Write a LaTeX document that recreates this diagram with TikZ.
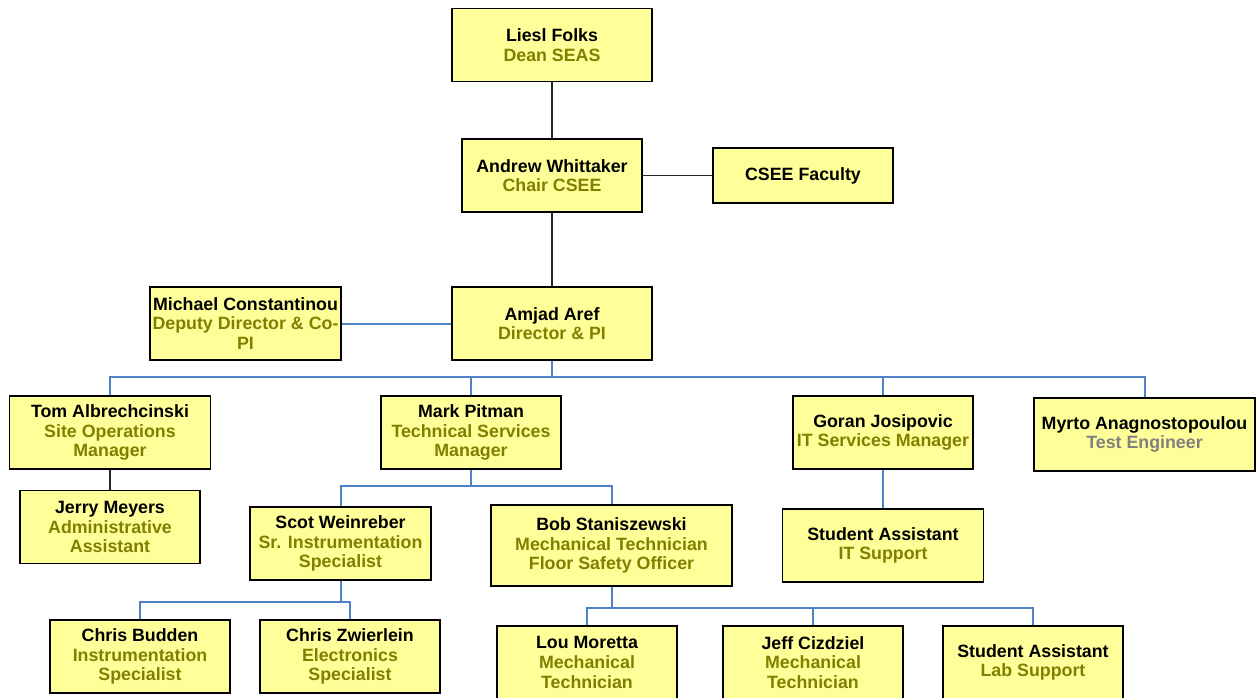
\documentclass[tikz,border=0pt]{standalone}
\usepackage{fontspec}
\setmainfont{Liberation Sans}
\usetikzlibrary{backgrounds}
\definecolor{boxfill}{HTML}{FFFF99}
\definecolor{titlecol}{HTML}{808000}
\definecolor{graytitle}{HTML}{808080}
\definecolor{busblue}{HTML}{4F81C8}
\newcommand{\ttl}[1]{{\color{titlecol}#1}}
\begin{document}
\begin{tikzpicture}[x=1pt,y=-1pt,
  orgbox/.style={draw=black, line width=1.8pt, fill=boxfill, inner sep=0pt,
    align=center, font=\fontsize{17.8}{19.6}\selectfont\bfseries,
    minimum width=180pt, minimum height=73pt},
  blk/.style={draw=black!85, line width=1.7pt},
  blu/.style={draw=busblue, line width=2pt}]
\useasboundingbox (0,0) rectangle (1258,698);
\clip (0,0) rectangle (1258,698);
% nodes
\node[orgbox, minimum width=200pt] (liesl) at (552,45) {Liesl Folks\\\ttl{Dean SEAS}};
\node[orgbox] (andrew) at (552,175.5) {Andrew Whittaker\\\ttl{Chair CSEE}};
\node[orgbox, minimum height=55pt] (csee) at (803,175.5) {CSEE Faculty};
\node[orgbox, minimum width=191pt] (michael) at (245.5,323.5) {Michael Constantinou\\\ttl{Deputy Director \& Co-}\\\ttl{PI}};
\node[orgbox, minimum width=200pt] (amjad) at (552,323.5) {Amjad Aref\\\ttl{Director \& PI}};
\node[orgbox, minimum width=201pt] (tom) at (110,432.5) {Tom Albrechcinski\\\ttl{Site Operations}\\\ttl{Manager}};
\node[orgbox] (mark) at (471,432.5) {Mark Pitman\\\ttl{Technical Services}\\\ttl{Manager}};
\node[orgbox] (goran) at (883,432.5) {Goran Josipovic\\\ttl{IT Services Manager}};
\node[orgbox, minimum width=221pt] (myrto) at (1144.5,434.5) {Myrto Anagnostopoulou\\{\color{graytitle}Test Engineer}};
\node[orgbox] (jerry) at (110,527) {Jerry Meyers\\\ttl{Administrative}\\\ttl{Assistant}};
\node[orgbox, minimum width=181pt] (scot) at (340.5,543.5) {Scot Weinreber\\\ttl{Sr. Instrumentation}\\\ttl{Specialist}};
\node[orgbox, minimum width=241pt, minimum height=81pt] (bob) at (611.5,545.5) {Bob Staniszewski\\\ttl{Mechanical Technician}\\\ttl{Floor Safety Officer}};
\node[orgbox, minimum width=201pt] (sit) at (883,545.5) {Student Assistant\\\ttl{IT Support}};
\node[orgbox] (chrisb) at (140,656.5) {Chris Budden\\\ttl{Instrumentation}\\\ttl{Specialist}};
\node[orgbox] (chrisz) at (350,656.5) {Chris Zwierlein\\\ttl{Electronics}\\\ttl{Specialist}};
\node[orgbox] (lou) at (587,662.5) {Lou Moretta\\\ttl{Mechanical}\\\ttl{Technician}};
\node[orgbox] (jeff) at (813,662.5) {Jeff Cizdziel\\\ttl{Mechanical}\\\ttl{Technician}};
\node[orgbox] (slab) at (1033,662.5) {Student Assistant\\\ttl{Lab Support}};
% bus coordinates
\coordinate (bus1) at (552,377);
\coordinate (bus2) at (471,486);
\coordinate (bus3) at (340.5,602);
\coordinate (bus4) at (611.5,608);
% connectors
\begin{pgfonlayer}{background}
\fill[white] (0,0) rectangle (1258,698);
\draw[blk] (liesl.south) -- (andrew.north);
\draw[blk] (andrew.east) -- (csee.west);
\draw[blk] (andrew.south) -- (amjad.north);
\draw[blk] (tom.south) -- (jerry.north);
\draw[blu] (michael.east) -- (amjad.west);
\draw[blu] (amjad.south) -- (bus1);
\draw[blu] (tom.north) |- (bus1);
\draw[blu] (myrto.north) |- (bus1);
\draw[blu] (mark.north) -- (mark.north |- bus1);
\draw[blu] (goran.north) -- (goran.north |- bus1);
\draw[blu] (goran.south) -- (sit.north);
\draw[blu] (mark.south) -- (bus2);
\draw[blu] (scot.north) |- (bus2);
\draw[blu] (bob.north) |- (bus2);
\draw[blu] (scot.south) -- (bus3);
\draw[blu] (chrisb.north) |- (bus3);
\draw[blu] (chrisz.north) |- (bus3);
\draw[blu] (bob.south) -- (bus4);
\draw[blu] (lou.north) |- (bus4);
\draw[blu] (slab.north) |- (bus4);
\draw[blu] (jeff.north) -- (jeff.north |- bus4);
\end{pgfonlayer}
\end{tikzpicture}
\end{document}
